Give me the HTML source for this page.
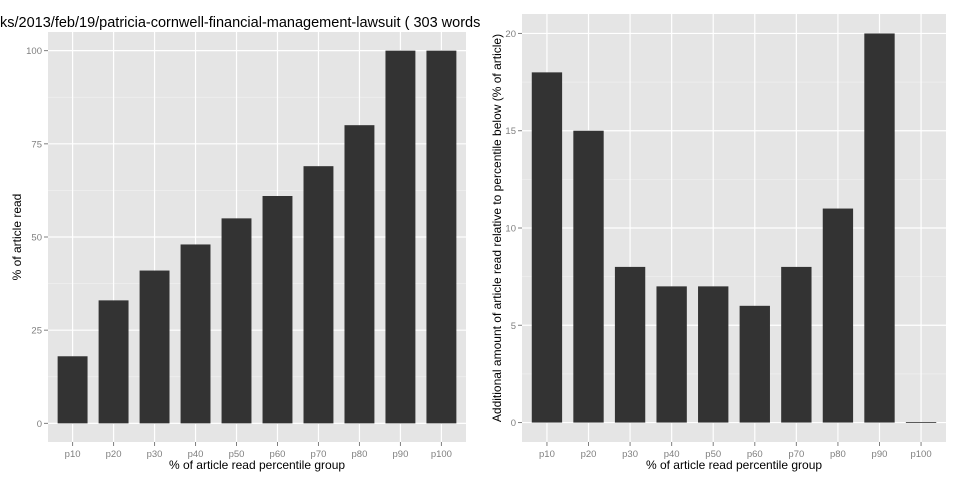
<!DOCTYPE html>
<html><head><meta charset="utf-8"><style>
body{margin:0;background:#fff;}
svg{display:block;font-family:"Liberation Sans",sans-serif;}
</style></head><body>
<svg id="c" width="960" height="480"></svg>
<script>
const categories=["p10","p20","p30","p40","p50","p60","p70","p80","p90","p100"];
const leftValues=[18,33,41,48,55,61,69,80,100,100];
const rightValues=[18,15,8,7,7,6,8,11,20,0];
const leftTicks=[0,25,50,75,100];
const rightTicks=[0,5,10,15,20];
const NS="http://www.w3.org/2000/svg";
const svg=document.getElementById('c');
function mk(t,a,p){const e=document.createElementNS(NS,t);for(const k in a)e.setAttribute(k,a[k]);(p||svg).appendChild(e);return e;}
function panel(o){
  const g=mk('g',{});
  
  
  const {x0,x1,y0,y1,min,max}=o;
  const Y=v=>y1-(v-min)/(max-min)*(y1-y0);
  const step=(x1-x0)/(categories.length+0.2);
  const X=i=>x0+step*(0.6+i);
  const bg=mk('rect',{x:x0,y:y0,width:x1-x0,height:y1-y0,fill:'#e5e5e5'},g);
  
  
  const tk=o.ticks;
  for(let i=0;i<tk.length-1;i++){const m=(tk[i]+tk[i+1])/2;mk('line',{x1:x0,x2:x1,y1:Y(m),y2:Y(m),stroke:'#f2f2f2','stroke-width':0.6},g);}
  tk.forEach(t=>{
    mk('line',{x1:x0,x2:x1,y1:Y(t),y2:Y(t),stroke:'#fff','stroke-width':1.2},g);
    mk('line',{x1:x0-4,x2:x0,y1:Y(t),y2:Y(t),stroke:'#7f7f7f'},g);
    const l=mk('text',{x:x0-6,y:Y(t)+3.5,'text-anchor':'end','font-size':9.5,fill:'#7f7f7f'},g);
    l.textContent=t;
    
    
  });
  categories.forEach((c,i)=>{
    mk('line',{x1:X(i),x2:X(i),y1:y0,y2:y1,stroke:'#fff','stroke-width':1.2},g);
    mk('line',{x1:X(i),x2:X(i),y1:y1,y2:y1+4,stroke:'#7f7f7f'},g);
    const l=mk('text',{x:X(i),y:y1+15,'text-anchor':'middle','font-size':9.5,fill:'#7f7f7f'},g);
    l.textContent=c;
    
    
  });
  const bw=step*0.73;
  o.values.forEach((v,i)=>{
    const top=Y(Math.max(v,0)),h=Math.max(Math.abs(Y(v)-Y(0)),0.8);
    const b=mk('rect',{x:X(i)-bw/2,y:v>0?top:Y(0)-0.4,width:bw,height:h,fill:'#333'},g);
    
    
  });
  const xt=mk('text',{x:(x0+x1)/2,y:y1+27,'text-anchor':'middle','font-size':12,fill:'#000'},g);
  xt.textContent='% of article read percentile group';
  
  
  const cy=(y0+y1)/2;
  const yt=mk('text',{x:o.ytx,y:cy,'text-anchor':'middle','font-size':12,fill:'#000',transform:`rotate(-90 ${o.ytx} ${cy})`},g);
  yt.textContent=o.ytitle;
  
  
}
panel({name:'left-panel',x0:48,x1:466,y0:32,y1:442,min:-5,max:105,values:leftValues,ticks:leftTicks,ytx:21,ytitle:'% of article read'});
panel({name:'right-panel',x0:522,x1:946,y0:14,y1:442,min:-1,max:21,values:rightValues,ticks:rightTicks,ytx:501,ytitle:'Additional amount of article read relative to percentile below (% of article)'});
const t=mk('text',{x:0,y:27,'font-size':14.5,fill:'#000'});
t.textContent='ks/2013/feb/19/patricia-cornwell-financial-management-lawsuit ( 303 words';


</script>
</body></html>
